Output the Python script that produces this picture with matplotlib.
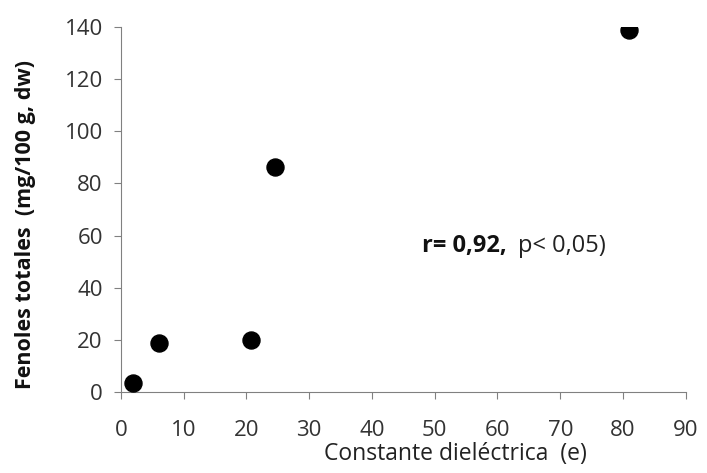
import matplotlib
matplotlib.use('Agg')
import matplotlib.pyplot as plt

plt.rcParams['font.family'] = ['Open Sans', 'DejaVu Sans']

constante = [1.9, 6.0, 20.7, 24.5, 80.9]
fenoles = [3.5, 19.0, 19.8, 86.3, 139.0]
xticks = [0, 10, 20, 30, 40, 50, 60, 70, 80, 90]
yticks = [0, 20, 40, 60, 80, 100, 120, 140]

fig = plt.figure(figsize=(7.07, 4.73), dpi=100)
ax = fig.add_axes([0.171, 0.171, 0.799, 0.772])

ax.scatter(constante, fenoles, s=150, color='black', zorder=3)

ax.set_xlim(0, 90)
ax.set_ylim(0, 140)
ax.set_xticks(xticks)
ax.set_yticks(yticks)
ax.spines['top'].set_visible(False)
ax.spines['right'].set_visible(False)
for s in ['left', 'bottom']:
    ax.spines[s].set_color('#808080')
ax.tick_params(colors='#808080', labelcolor='#333333', labelsize=16, length=5, direction='out')
ax.tick_params(axis='x', pad=15)
ax.tick_params(axis='y', pad=8)

fig.text(0.644, 0.028, 'Constante dieléctrica  (e)', ha='center', va='baseline',
         fontsize=16.5, color='#222222')
fig.text(0.036, 0.526, 'Fenoles totales  (mg/100 g, dw)', ha='center', va='center',
         rotation=90, fontsize=15.5, fontweight='bold', color='#111111')

ax.text(48.0, 56, 'r= 0,92,', fontsize=17, fontweight='bold', color='#111111', va='center')
ax.text(63.3, 56, 'p< 0,05)', fontsize=17, color='#222222', va='center')

fig.savefig('out.png', dpi=100)
